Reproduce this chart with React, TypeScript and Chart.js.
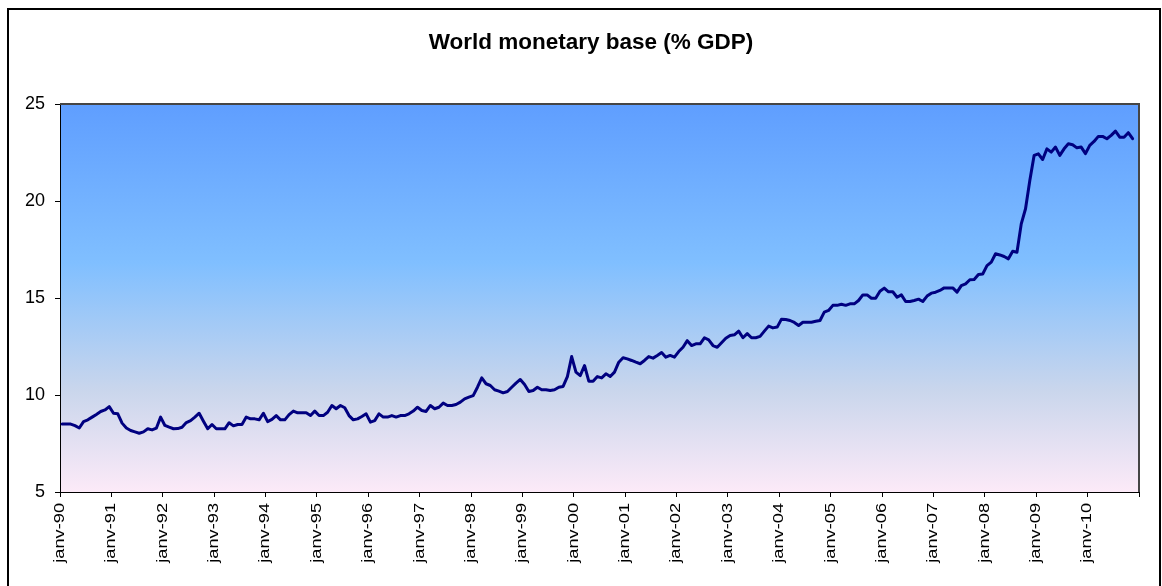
import React, { useEffect, useRef } from 'react';
import { Chart, registerables } from 'chart.js';

Chart.register(...registerables);

const chartTitle = 'World monetary base (% GDP)';

// One label per January, from 1990 to 2010
const yearTickLabels = [
  'janv-90', 'janv-91', 'janv-92', 'janv-93', 'janv-94', 'janv-95', 'janv-96',
  'janv-97', 'janv-98', 'janv-99', 'janv-00', 'janv-01', 'janv-02', 'janv-03',
  'janv-04', 'janv-05', 'janv-06', 'janv-07', 'janv-08', 'janv-09', 'janv-10',
];

const yMin = 5;
const yMax = 25;
const yStep = 5;

// Monthly monetary base, % of world GDP
const values1990 = [8.5, 8.5, 8.5, 8.42, 8.3, 8.63, 8.72, 8.86, 9.0, 9.15, 9.23, 9.4];
const values1991 = [9.06, 9.03, 8.55, 8.3, 8.17, 8.1, 8.03, 8.1, 8.26, 8.2, 8.29, 8.86];
const values1992 = [8.43, 8.34, 8.26, 8.27, 8.34, 8.58, 8.68, 8.86, 9.06, 8.65, 8.26, 8.48];
const values1993 = [8.26, 8.26, 8.26, 8.57, 8.41, 8.48, 8.48, 8.86, 8.77, 8.77, 8.72, 9.06];
const values1994 = [8.63, 8.74, 8.94, 8.72, 8.72, 8.99, 9.17, 9.08, 9.08, 9.08, 8.94, 9.17];
const values1995 = [8.94, 8.94, 9.11, 9.46, 9.29, 9.46, 9.34, 8.94, 8.72, 8.77, 8.89, 9.03];
const values1996 = [8.6, 8.68, 9.03, 8.86, 8.86, 8.94, 8.86, 8.94, 8.94, 9.03, 9.17, 9.37];
const values1997 = [9.2, 9.15, 9.46, 9.29, 9.37, 9.58, 9.46, 9.46, 9.51, 9.63, 9.8, 9.89];
const values1998 = [9.97, 10.4, 10.88, 10.58, 10.49, 10.27, 10.2, 10.11, 10.18, 10.4, 10.61, 10.8];
const values1999 = [10.54, 10.18, 10.23, 10.4, 10.27, 10.27, 10.23, 10.27, 10.4, 10.44, 10.95, 11.98];
const values2000 = [11.18, 11.0, 11.52, 10.71, 10.71, 10.95, 10.88, 11.09, 10.95, 11.18, 11.69, 11.92];
const values2001 = [11.86, 11.78, 11.69, 11.61, 11.78, 11.98, 11.9, 12.04, 12.19, 11.95, 12.04, 11.95];
const values2002 = [12.24, 12.46, 12.8, 12.55, 12.64, 12.64, 12.95, 12.84, 12.55, 12.46, 12.69, 12.93];
const values2003 = [13.07, 13.1, 13.29, 12.95, 13.16, 12.95, 12.95, 13.02, 13.29, 13.55, 13.46, 13.5];
const values2004 = [13.91, 13.89, 13.84, 13.74, 13.58, 13.75, 13.75, 13.75, 13.8, 13.84, 14.27, 14.36];
const values2005 = [14.62, 14.62, 14.68, 14.62, 14.7, 14.7, 14.87, 15.16, 15.16, 14.99, 14.99, 15.35];
const values2006 = [15.51, 15.32, 15.32, 15.04, 15.16, 14.82, 14.82, 14.87, 14.94, 14.82, 15.1, 15.25];
const values2007 = [15.3, 15.39, 15.52, 15.52, 15.52, 15.3, 15.64, 15.73, 15.94, 15.95, 16.21, 16.24];
const values2008 = [16.67, 16.85, 17.28, 17.22, 17.14, 17.02, 17.41, 17.36, 18.82, 19.6, 21.06, 22.35];
const values2009 = [22.43, 22.14, 22.69, 22.52, 22.78, 22.35, 22.69, 22.95, 22.9, 22.74, 22.78, 22.44];
const values2010 = [22.87, 23.07, 23.33, 23.33, 23.21, 23.38, 23.6, 23.29, 23.29, 23.52, 23.21];

const monthlySeries = [
  ...values1990, ...values1991, ...values1992, ...values1993, ...values1994,
  ...values1995, ...values1996, ...values1997, ...values1998, ...values1999,
  ...values2000, ...values2001, ...values2002, ...values2003, ...values2004,
  ...values2005, ...values2006, ...values2007, ...values2008, ...values2009,
  ...values2010,
];

const MONTHS_PER_YEAR = 12;
const FONT = "Arial, 'Liberation Sans', Helvetica, sans-serif";
const WIDTH = 1162;
const HEIGHT = 586;

export default function App() {
  const canvasRef = useRef<HTMLCanvasElement | null>(null);

  useEffect(() => {
    const canvas = canvasRef.current;
    if (!canvas) return;

    // each month is plotted in the middle of its slot on the time axis
    const points = monthlySeries.map((v, i) => ({ x: i + 0.5, y: v }));
    const axisEnd = yearTickLabels.length * MONTHS_PER_YEAR;

    const decorations = {
      id: 'decorations',
      beforeDraw(chart: any) {
        const { ctx, chartArea: a } = chart;
        ctx.save();
        ctx.fillStyle = '#ffffff';
        ctx.fillRect(0, 0, chart.width, chart.height);

        // outer chart border
        ctx.strokeStyle = '#000000';
        ctx.lineWidth = 2;
        ctx.strokeRect(8, 9, 1152, 700);

        // plot area gradient
        const g = ctx.createLinearGradient(0, a.top, 0, a.bottom);
        g.addColorStop(0, '#5F9EFF');
        g.addColorStop(0.41, '#80BFFF');
        g.addColorStop(0.74, '#CAD6EC');
        g.addColorStop(1, '#FCEAF8');
        ctx.fillStyle = g;
        ctx.fillRect(a.left, a.top, a.right - a.left, a.bottom - a.top);

        // title
        ctx.fillStyle = '#000000';
        ctx.font = `bold 22.5px ${FONT}`;
        ctx.textAlign = 'center';
        ctx.textBaseline = 'alphabetic';
        ctx.fillText(chartTitle, 591, 49);
        ctx.restore();
      },
      afterDraw(chart: any) {
        const { ctx, chartArea: a } = chart;
        ctx.save();
        // top and right edges of the plot frame
        ctx.strokeStyle = '#454545';
        ctx.lineWidth = 2;
        ctx.beginPath();
        ctx.moveTo(a.left, a.top);
        ctx.lineTo(a.right, a.top);
        ctx.lineTo(a.right, a.bottom);
        ctx.stroke();

        // vertical year labels under the x axis
        const xs = chart.scales.x;
        ctx.fillStyle = '#000000';
        ctx.font = `14px ${FONT}`;
        ctx.textAlign = 'right';
        ctx.textBaseline = 'middle';
        yearTickLabels.forEach((label, k) => {
          const x = xs.getPixelForValue(k * MONTHS_PER_YEAR);
          ctx.save();
          ctx.translate(x, a.bottom + 11);
          ctx.rotate(-Math.PI / 2);
          ctx.scale(1.3, 1);
          ctx.fillText(label, 0, 0);
          ctx.restore();
        });
        ctx.restore();
      },
    };

    const chart = new Chart(canvas, {
      type: 'line',
      data: {
        datasets: [
          {
            data: points,
            borderColor: '#000080',
            borderWidth: 3,
            pointRadius: 0,
            pointHoverRadius: 0,
            tension: 0,
            fill: false,
            borderJoinStyle: 'round',
            borderCapStyle: 'round',
          },
        ],
      },
      options: {
        responsive: false,
        animation: false,
        devicePixelRatio: 1,
        layout: { padding: { top: 104, right: 23, bottom: 0, left: 0 } },
        plugins: {
          legend: { display: false },
          tooltip: { enabled: false },
          title: { display: false },
        },
        events: [],
        scales: {
          x: {
            type: 'linear',
            min: 0,
            max: axisEnd,
            ticks: { stepSize: MONTHS_PER_YEAR, display: false },
            grid: { drawOnChartArea: false, drawTicks: true, tickLength: 5, color: '#000000' },
            border: { display: true, color: '#000000', width: 1 },
            afterFit: (s: any) => {
              s.height = 94;
            },
          },
          y: {
            type: 'linear',
            min: yMin,
            max: yMax,
            ticks: {
              stepSize: yStep,
              color: '#000000',
              padding: 10,
              font: { family: FONT, size: 18 },
            },
            grid: { drawOnChartArea: false, drawTicks: true, tickLength: 5, color: '#000000' },
            border: { display: true, color: '#000000', width: 1 },
            afterFit: (s: any) => {
              s.width = 60;
            },
          },
        },
      },
      plugins: [decorations],
    } as any);

    return () => chart.destroy();
  }, []);

  return (
    <div
      style={{
        position: 'fixed',
        left: 0,
        top: 0,
        width: WIDTH,
        height: HEIGHT,
        overflow: 'hidden',
        background: '#ffffff',
      }}
    >
      <canvas ref={canvasRef} width={WIDTH} height={HEIGHT} />
    </div>
  );
}
